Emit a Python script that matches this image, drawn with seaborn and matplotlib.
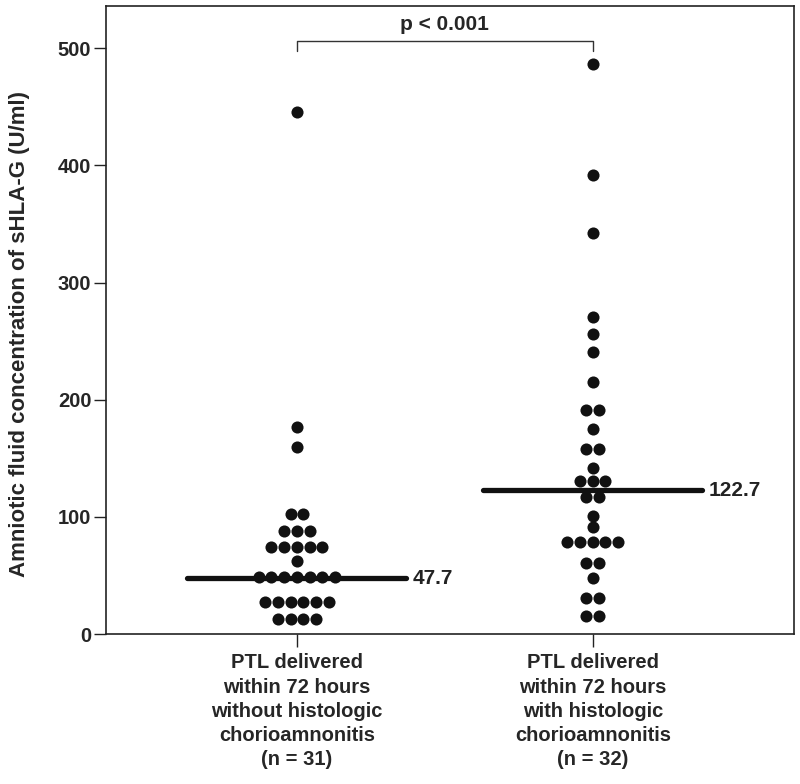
import numpy as np
import pandas as pd
import matplotlib
matplotlib.use("Agg")
import matplotlib.pyplot as plt
import seaborn as sns

# values (U/ml)
no_chorio = [445.7, 176.9, 159.3,
             102.1, 102.1,
             87.9, 87.9, 87.9,
             74.5, 74.5, 74.5, 74.5, 74.5,
             62.3,
             48.9, 48.9, 48.9, 48.9, 48.9, 48.9, 48.9,
             27.0, 27.0, 27.0, 27.0, 27.0, 27.0,
             12.5, 12.5, 12.5, 12.5]
with_chorio = [486.3, 391.6, 341.9, 270.7, 255.7, 240.9, 215.3,
               191.1, 191.1, 174.6, 157.6, 157.6, 141.9,
               130.5, 130.5, 130.5, 116.6, 116.6, 100.9, 91.6,
               78.2, 78.2, 78.2, 78.2, 78.2,
               60.3, 60.3, 47.5, 30.5, 30.5, 15.4, 15.4]
group_labels = ["PTL delivered\nwithin 72 hours\nwithout histologic\nchorioamnonitis\n(n = 31)",
                "PTL delivered\nwithin 72 hours\nwith histologic\nchorioamnonitis\n(n = 32)"]
medians = [47.7, 122.7]
p_text = "p < 0.001"

df = pd.DataFrame({
    "group": [group_labels[0]] * len(no_chorio) + [group_labels[1]] * len(with_chorio),
    "value": no_chorio + with_chorio,
})

sns.set_style("ticks")
plt.rcParams["font.family"] = ["Liberation Sans", "DejaVu Sans"]
plt.rcParams["font.weight"] = "bold"

fig = plt.figure(figsize=(8, 7.84), dpi=100)
ax = fig.add_axes([0.1325, 0.1913, 0.86, 0.801])

sns.swarmplot(data=df, x="group", y="value", order=group_labels,
              color="#111111", size=8.7, linewidth=0, ax=ax)

# median bars
ax.hlines(medians, [i - 0.37 for i in range(2)], [i + 0.37 for i in range(2)],
          color="#111111", lw=3.8, capstyle="round", zorder=1)
for i, m in enumerate(medians):
    ax.text(i + 0.39, m, f"{m}", va="center", ha="left", fontsize=15,
            fontweight="bold", color="#222222")

# significance bracket
ax.plot([0, 0, 1, 1], [498, 506, 506, 498], color="#333333", lw=1)
ax.text(0.5, 520, p_text, ha="center", va="center", fontsize=15, fontweight="bold")

ax.set_xlim(-0.645, 1.68)
ax.set_ylim(0, 536)
ax.set_yticks([0, 100, 200, 300, 400, 500])
ax.set_xlabel("")
ax.set_ylabel("Amniotic fluid concentration of sHLA-G (U/ml)", fontsize=16,
              fontweight="bold")
ax.yaxis.set_label_coords(-0.11, 0.478)
ax.tick_params(axis="y", labelsize=14.5, length=8.6, width=1, color="#222222", pad=2)
ax.tick_params(axis="x", labelsize=14.5, length=9, width=1, color="#222222", pad=5)
for lab in ax.get_xticklabels() + ax.get_yticklabels():
    lab.set_fontweight("bold")
for lab in ax.get_xticklabels():
    lab.set_linespacing(1.35)
for sp in ax.spines.values():
    sp.set_visible(True)
    sp.set_color("#222222")
    sp.set_linewidth(1.2)

# swarm positions are computed at draw time; draw once, then freeze them and
# centre each row of equal values on its category like the original dot plot
fig.canvas.draw()
for coll in ax.collections:
    xy = coll.get_offsets().copy()
    if len(xy) == 0:
        continue
    if "draw" in coll.__dict__:
        del coll.draw
    centre = np.round(np.median(xy[:, 0]))
    for yv in np.unique(xy[:, 1]):
        row = xy[:, 1] == yv
        xy[row, 0] += centre - (xy[row, 0].min() + xy[row, 0].max()) / 2
    coll.set_offsets(xy)

fig.savefig("out.png", dpi=100)
